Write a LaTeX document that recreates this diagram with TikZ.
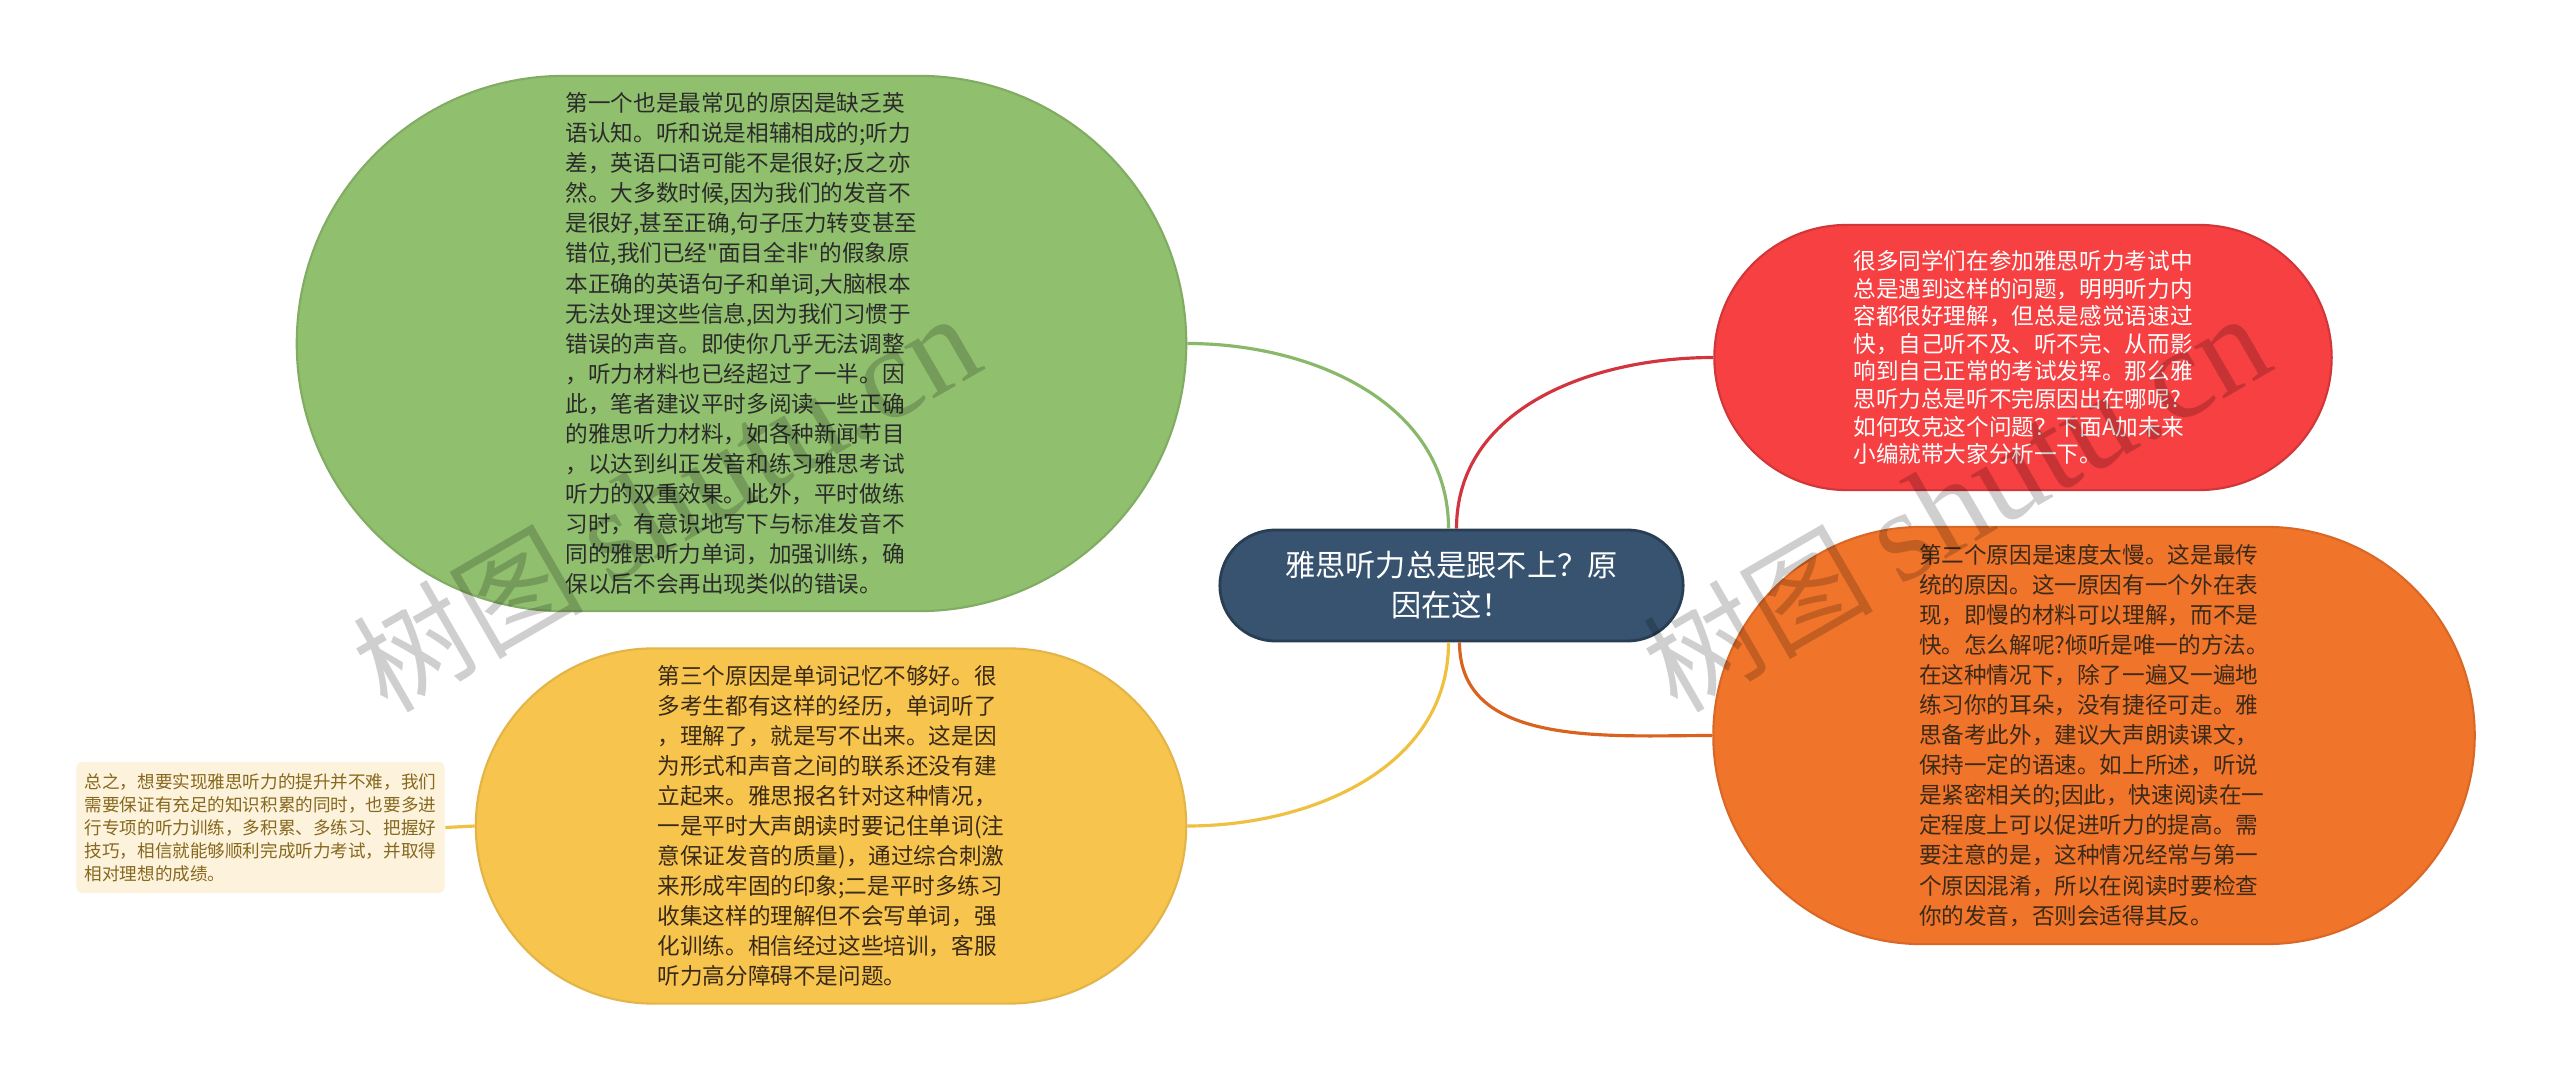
\documentclass[tikz,border=0pt]{standalone}
\usepackage{fontspec}
\setmainfont{Noto Sans CJK SC}[Ligatures=TeXOff]
\newfontfamily\wmserif{Liberation Serif}
\usetikzlibrary{shapes.misc}
\definecolor{cgreen}{HTML}{90BF6E}
\definecolor{cred}{HTML}{F64042}
\definecolor{corange}{HTML}{F1742B}
\definecolor{cyellow}{HTML}{F7C54E}
\definecolor{cnavy}{HTML}{37536F}
\definecolor{cnote}{HTML}{FDF2DB}
\definecolor{lgreen}{HTML}{8AB86A}
\definecolor{lred}{HTML}{D2353D}
\definecolor{lorange}{HTML}{D9621E}
\definecolor{lyellow}{HTML}{F0C040}
\definecolor{tdark}{HTML}{2B2B2B}
\definecolor{tbrown}{HTML}{3A2A18}
\definecolor{tnote}{HTML}{86691F}
\begin{document}
\begin{tikzpicture}[x=0.01cm,y=0.01cm,
  bubble/.style={rounded rectangle, inner sep=0pt, align=left, line width=0.6pt,
    font=\fontsize{6.43}{8.54}\selectfont},
  rootbox/.style={rounded rectangle, fill=cnavy, draw=cnavy!75!black, line width=0.8pt,
    text=white, align=center, inner sep=0pt, font=\fontsize{8.59}{11.38}\selectfont},
  notebox/.style={rectangle, rounded corners=0.06cm, fill=cnote, text=tnote, align=left,
    inner sep=0pt, font=\fontsize{5.0}{6.54}\selectfont},
  link/.style={line width=0.9pt},
  wmark/.style={rotate=30, text=black, text opacity=0.19, inner sep=0pt,
    font=\fontsize{32.7}{36}\selectfont}
]
\useasboundingbox (0,0) rectangle (2560,1081);
\fill[white] (0,0) rectangle (2560,1081);

% central node
\node[rootbox, minimum width=4.63cm, minimum height=1.11cm] (root) at (1451.5,495.5)
  {雅思听力总是跟不上？原\\因在这！};

% green
\node[bubble, fill=cgreen, draw=cgreen!90!black, text=tdark,
  minimum width=8.89cm, minimum height=5.35cm] (g) at (741.5,737.5)
  {第一个也是最常见的原因是缺乏英\\
语认知。听和说是相辅相成的;听力\\
差，英语口语可能不是很好;反之亦\\
然。大多数时候,因为我们的发音不\\
是很好,甚至正确,句子压力转变甚至\\
错位,我们已经"面目全非"的假象原\\
本正确的英语句子和单词,大脑根本\\
无法处理这些信息,因为我们习惯于\\
错误的声音。即使你几乎无法调整\\
，听力材料也已经超过了一半。因\\
此，笔者建议平时多阅读一些正确\\
的雅思听力材料，如各种新闻节目\\
，以达到纠正发音和练习雅思考试\\
听力的双重效果。此外，平时做练\\
习时，有意识地写下与标准发音不\\
同的雅思听力单词，加强训练，确\\
保以后不会再出现类似的错误。};

% red
\node[bubble, fill=cred, draw=cred!85!black, text=white,
  font=\fontsize{6.43}{7.85}\selectfont,
  minimum width=6.17cm, minimum height=2.65cm] (r) at (2023,723.5)
  {很多同学们在参加雅思听力考试中\\
总是遇到这样的问题，明明听力内\\
容都很好理解，但总是感觉语速过\\
快，自己听不及、听不完、从而影\\
响到自己正常的考试发挥。那么雅\\
思听力总是听不完原因出在哪呢?\\
如何攻克这个问题？下面A加未来\\
小编就带大家分析一下。};

% orange
\node[bubble, fill=corange, draw=corange!90!black, text=tbrown,
  minimum width=7.61cm, minimum height=4.17cm] (o) at (2094,345.5)
  {第二个原因是速度太慢。这是最传\\
统的原因。这一原因有一个外在表\\
现，即慢的材料可以理解，而不是\\
快。怎么解呢?倾听是唯一的方法。\\
在这种情况下，除了一遍又一遍地\\
练习你的耳朵，没有捷径可走。雅\\
思备考此外，建议大声朗读课文，\\
保持一定的语速。如上所述，听说\\
是紧密相关的;因此，快速阅读在一\\
定程度上可以促进听力的提高。需\\
要注意的是，这种情况经常与第一\\
个原因混淆，所以在阅读时要检查\\
你的发音，否则会适得其反。};

% yellow
\node[bubble, fill=cyellow, draw=cyellow!92!black, text=tbrown,
  minimum width=7.10cm, minimum height=3.55cm] (y) at (831,255)
  {第三个原因是单词记忆不够好。很\\
多考生都有这样的经历，单词听了\\
，理解了，就是写不出来。这是因\\
为形式和声音之间的联系还没有建\\
立起来。雅思报名针对这种情况，\\
一是平时大声朗读时要记住单词(注\\
意保证发音的质量)，通过综合刺激\\
来形成牢固的印象;二是平时多练习\\
收集这样的理解但不会写单词，强\\
化训练。相信经过这些培训，客服\\
听力高分障碍不是问题。};

% note
\node[notebox, minimum width=3.68cm, minimum height=1.31cm] (n) at (260.5,253.5)
  {总之，想要实现雅思听力的提升并不难，我们\\
需要保证有充足的知识积累的同时，也要多进\\
行专项的听力训练，多积累、多练习、把握好\\
技巧，相信就能够顺利完成听力考试，并取得\\
相对理想的成绩。};

% connectors
\draw[link, lgreen] ([xshift=-0.03cm]root.north) to[out=90, in=0] (g.east);
\draw[link, lred] ([xshift=0.05cm]root.north) to[out=90, in=180] (r.west);
\draw[link, lyellow] ([xshift=-0.03cm]root.south) to[out=-90, in=0] (y.east);
\draw[link, lorange] ([xshift=0.08cm]root.south) to[out=-90, in=180] (o.west);
\draw[link, lyellow] (y.west) -- (n.east);

% watermarks
\node[wmark] (w1) at (666,578) {树图 {\wmserif\fontsize{37}{40}\selectfont shutu.cn}};
\node[wmark] (w2) at (1956,578) {树图 {\wmserif\fontsize{37}{40}\selectfont shutu.cn}};
\end{tikzpicture}
\end{document}
